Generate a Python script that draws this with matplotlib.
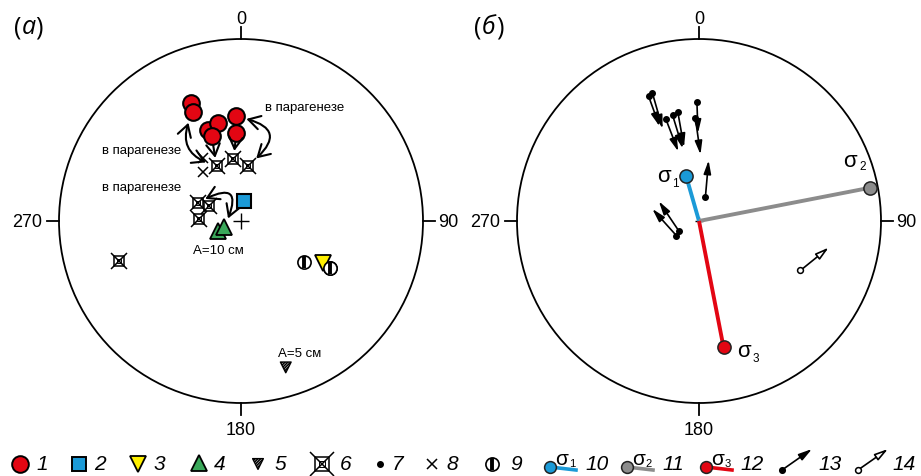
import numpy as np
import matplotlib
matplotlib.use("Agg")
import matplotlib.pyplot as plt
from matplotlib.patches import Circle, FancyArrowPatch

plt.rcParams['font.family'] = ['Liberation Sans', 'DejaVu Sans']
plt.rcParams['hatch.linewidth'] = 1.1

# ---------------- data: lower-hemisphere orientations (trend, plunge), degrees
red_trend = [337, 336, 340, 347, 341, 357, 357]
red_plunge = [30, 35, 46, 44, 49, 42, 50]
blue_trend = [8]
blue_plunge = [81]
yellow_trend = [117]
yellow_plunge = [48]
green_trend = [246, 249]
green_plunge = [79, 82]
hatched_trend = [163]
hatched_plunge = [17]
boxx_trend = [336, 353, 7, 293, 295, 273, 252]
boxx_plunge = [63, 62, 65, 69, 74, 71, 30]
cross_trend = [329, 322]
cross_plunge = [57, 62]
half_trend = [123, 118]
half_plunge = [56, 44]

# principal stress axes sigma1, sigma2, sigma3
sigma_trend = [344, 79, 169]
sigma_plunge = [69, 5, 30]
sigma_names = ['1', '2', '3']

# slip vectors: pole position, arrow azimuth on the net, arrow length (net radii)
slip_trend = [340, 338, 342, 346, 349, 359, 358, 15, 237, 243]
slip_plunge = [26, 27, 41, 40, 39, 35, 43, 79, 78, 80]
slip_azimuth = [164, 160, 159, 163, 170, 178, 172, 5, 318, 326]
slip_length = [0.205, 0.176, 0.188, 0.19, 0.195, 0.17, 0.2, 0.203, 0.198, 0.198]
open_trend = [116]
open_plunge = [38]
open_azimuth = [51]
open_length = [0.2]

tick_labels = ['0', '90', '180', '270']
legend_numbers = ['1', '2', '3', '4', '5', '6', '7', '8', '9', '10', '11', '12', '13', '14']

RED = '#e30613'
BLUE = '#1b9ad7'
GREY = '#8c8c8c'
GREEN = '#3aa85a'
YELLOW = '#fff000'
HATCH = '/' * 12
ARROW = '-|>,head_length=0.8,head_width=0.22'


def project(trend, plunge):
    """Schmidt (equal-area) lower-hemisphere projection onto the unit circle."""
    t = np.radians(np.asarray(trend, float))
    p = np.radians(np.asarray(plunge, float))
    r = np.sqrt(2) * np.sin((np.pi / 2 - p) / 2)
    return r * np.sin(t), r * np.cos(t)


W, H = 921, 477
fig = plt.figure(figsize=(W / 100, H / 100), dpi=100)

# overlay axes in pixel units for headings and the legend row
ov = fig.add_axes([0, 0, 1, 1])
ov.set_xlim(0, W)
ov.set_ylim(H, 0)
ov.axis('off')

R = 182.0
LIM = 1.3


def net_axes(cx, cy):
    size = 2 * LIM * R
    ax = fig.add_axes([(cx - size / 2) / W, (H - cy - size / 2) / H, size / W, size / H])
    ax.set_xlim(-LIM, LIM)
    ax.set_ylim(-LIM, LIM)
    ax.axis('off')
    ax.add_patch(Circle((0, 0), 1, fill=False, lw=1.3, color='k', zorder=1))
    for az, lab in zip([0, 90, 180, 270], tick_labels):
        s, c = np.sin(np.radians(az)), np.cos(np.radians(az))
        ax.plot([s, 1.068 * s], [c, 1.068 * c], color='k', lw=1.3, zorder=1)
        if az == 0:
            ax.text(0, 1.115, lab, ha='center', va='center', fontsize=13)
        elif az == 180:
            ax.text(0, -1.145, lab, ha='center', va='center', fontsize=13)
        elif az == 90:
            ax.text(1.085, 0, lab, ha='left', va='center', fontsize=13)
        else:
            ax.text(-1.09, 0, lab, ha='right', va='center', fontsize=13)
    return ax


axL = net_axes(241, 222)
axR = net_axes(699, 222)


def boxx(ax, x, y, k=1.0, z=5):
    ax.plot(x, y, 's', ms=7.5 * k, mfc='white', mec='k', mew=1.1, ls='none', zorder=z)
    ax.plot(x, y, 'x', ms=12 * k, mec='k', mew=1.1, ls='none', zorder=z)
    ax.plot(x, y, 's', ms=2.8 * k, mfc='none', mec='k', mew=0.7, ls='none', zorder=z)


def half(ax, x, y, k=1.0, z=5):
    ax.plot(x, y, 'o', ms=9.5 * k, mfc='white', mec='k', mew=1.2, ls='none', zorder=z)
    ax.plot(x, y, '|', ms=8.8 * k, mec='k', mew=2.8 * k, ls='none', zorder=z)


def hatched(ax, x, y, z=6):
    ax.scatter(x, y, marker='v', s=60, facecolor='white', edgecolor='k', hatch=HATCH,
               linewidth=1.0, zorder=z)


# ---------------- left net
rx, ry = project(red_trend, red_plunge)
bx, by = project(boxx_trend, boxx_plunge)
gx, gy = project(green_trend, green_plunge)
cx_, cy_ = project(cross_trend, cross_plunge)
sqx, sqy = project(blue_trend, blue_plunge)
yx, yy = project(yellow_trend, yellow_plunge)
hx, hy = project(hatched_trend, hatched_plunge)
fx, fy = project(half_trend, half_plunge)

axL.plot(0, 0, '+', ms=11, mec='k', mew=1.0, zorder=3)
boxx(axL, bx, by)
axL.plot(cx_, cy_, 'x', ms=7, mec='k', mew=1.1, ls='none', zorder=5)
axL.plot(rx, ry, 'o', ms=12, mfc=RED, mec='k', mew=1.5, ls='none', zorder=6)
axL.plot(sqx, sqy, 's', ms=10.5, mfc=BLUE, mec='k', mew=1.5, ls='none', zorder=6)
axL.plot(gx, gy, '^', ms=12, mfc=GREEN, mec='k', mew=1.3, ls='none', zorder=6)
half(axL, fx, fy)
axL.plot(yx, yy, 'v', ms=11, mfc=YELLOW, mec='k', mew=1.3, ls='none', zorder=6)
half(axL, fx[1:], fy[1:], z=7)
hatched(axL, hx, hy)


def curved(ax, a, b, rad, style='<->', sa=8, sb=8):
    ax.add_patch(FancyArrowPatch(a, b, connectionstyle=f'arc3,rad={rad}',
                                 arrowstyle=f'{style},head_length=0.6,head_width=0.35',
                                 mutation_scale=14, lw=1.5, color='k',
                                 shrinkA=sa, shrinkB=sb, zorder=8))


curved(axL, (rx[5], ry[5]), (bx[2], by[2]), -1.1)
curved(axL, (rx[1], ry[1]), (bx[0], by[0]), 0.6)
curved(axL, (bx[3], by[3]), (gx[1], gy[1]), -1.5, sa=6, sb=7)
curved(axL, (rx[4], ry[4]), (bx[0], by[0]), 0.0, style='->', sa=7, sb=6)
curved(axL, (rx[6], ry[6]), (bx[1], by[1]), 0.0, style='->', sa=7, sb=6)

# ---------------- right net
axR.plot(0, 0, '+', ms=6, mec='k', mew=1.0, zorder=2)
sx, sy = project(sigma_trend, sigma_plunge)
s_cols = [BLUE, GREY, RED]
for i in range(3):
    axR.plot([0, sx[i]], [0, sy[i]], color=s_cols[i], lw=2.8, zorder=3, solid_capstyle='butt')
for i in range(3):
    axR.plot(sx[i], sy[i], 'o', ms=9.5, mfc=s_cols[i], mec='#222222', mew=1.1, zorder=4)

lab_off = [(-16, 0), (-14, 20), (15, -2)]
sub_off = [(-8, -5), (-5, 16), (23, -8)]
for i in range(3):
    axR.annotate('σ', (sx[i], sy[i]), xytext=lab_off[i], textcoords='offset points',
                 ha='center', va='center', fontsize=16)
    axR.annotate(sigma_names[i], (sx[i], sy[i]), xytext=sub_off[i], textcoords='offset points',
                 ha='center', va='center', fontsize=8.5)

tx, ty = project(slip_trend, slip_plunge)
for i in range(len(slip_trend)):
    a = np.radians(slip_azimuth[i])
    hx_ = tx[i] + slip_length[i] * np.sin(a)
    hy_ = ty[i] + slip_length[i] * np.cos(a)
    axR.annotate('', xy=(hx_, hy_), xytext=(tx[i], ty[i]),
                 arrowprops=dict(arrowstyle=ARROW, mutation_scale=10, lw=1.2, color='k',
                                 shrinkA=0, shrinkB=0),
                 zorder=5)
axR.plot(tx, ty, 'o', ms=4, color='k', ls='none', zorder=6)

ox, oy = project(open_trend, open_plunge)
for i in range(len(open_trend)):
    a = np.radians(open_azimuth[i])
    hx_ = ox[i] + open_length[i] * np.sin(a)
    hy_ = oy[i] + open_length[i] * np.cos(a)
    axR.annotate('', xy=(hx_, hy_), xytext=(ox[i], oy[i]),
                 arrowprops=dict(arrowstyle=ARROW, mutation_scale=10, lw=1.2,
                                 fc='white', ec='k', shrinkA=0, shrinkB=0), zorder=5)
axR.plot(ox, oy, 'o', ms=4.2, mfc='white', mec='k', mew=1.1, ls='none', zorder=6)

# ---------------- headings and notes
HF = ['Open Sans', 'DejaVu Sans']
ov.text(14, 28, '(', fontsize=18, family=HF, va='center')
ov.text(22, 28, 'а', fontsize=18, family=HF, style='italic', va='center')
ov.text(35, 28, ')', fontsize=18, family=HF, va='center')
ov.text(474, 28, '(', fontsize=18, family=HF, va='center')
ov.text(482, 28, 'б', fontsize=18, family=HF, style='italic', va='center')
ov.text(496, 28, ')', fontsize=18, family=HF, va='center')

ov.text(305, 108, 'в парагенезе', fontsize=9.5, ha='center', va='center')
ov.text(142, 151, 'в парагенезе', fontsize=9.5, ha='center', va='center')
ov.text(142, 188, 'в парагенезе', fontsize=9.5, ha='center', va='center')
ov.text(218, 251, 'A=10 см', fontsize=9.5, ha='center', va='center')
ov.text(300, 354, 'A=5 см', fontsize=9.5, ha='center', va='center')

# ---------------- legend row
ly = 465
lk = dict(ls='none', zorder=5)
ov.plot(20, ly, 'o', ms=12, mfc=RED, mec='k', mew=1.4, **lk)
ov.plot(79, ly, 's', ms=10.5, mfc=BLUE, mec='k', mew=1.4, **lk)
ov.plot(138, ly, 'v', ms=11, mfc=YELLOW, mec='k', mew=1.3, **lk)
ov.plot(199, ly - 1, '^', ms=11, mfc=GREEN, mec='k', mew=1.3, **lk)
hatched(ov, [258], [ly], z=5)
boxx(ov, 322, ly, k=1.4)
ov.plot(380, ly, 'o', ms=4, color='k', **lk)
ov.plot(432, ly, 'x', ms=7, mec='k', mew=1.1, **lk)
half(ov, 492, ly)
for x0, col, nm in [(550, BLUE, '1'), (627, GREY, '2'), (706, RED, '3')]:
    ov.plot([x0, x0 + 26], [ly + 3, ly + 6], color=col, lw=2.6, zorder=4)
    ov.plot(x0, ly + 3, 'o', ms=8.5, mfc=col, mec='#222222', mew=1.1, **lk)
    ov.text(x0 + 12, ly - 5, 'σ', fontsize=15, ha='center', va='center')
    ov.text(x0 + 22, ly - 1, nm, fontsize=8, ha='center', va='center')
for x0, fc in [(782, 'k'), (858, 'white')]:
    ov.add_patch(FancyArrowPatch((x0, ly + 6), (x0 + 30, ly - 15), arrowstyle=ARROW,
                                 mutation_scale=10, lw=1.2, fc=fc, ec='k',
                                 shrinkA=0, shrinkB=0, zorder=4))
    ov.plot(x0, ly + 6, 'o', ms=4 if fc == 'k' else 4.2, mfc=fc, mec='k', mew=1.1, **lk)

num_x = [36, 94, 154, 214, 275, 340, 392, 446, 510, 585, 662, 740, 818, 892]
for x0, t in zip(num_x, legend_numbers):
    ov.text(x0, ly, t, fontsize=15, style='italic', ha='left', va='center')

fig.savefig('out.png', dpi=100)
